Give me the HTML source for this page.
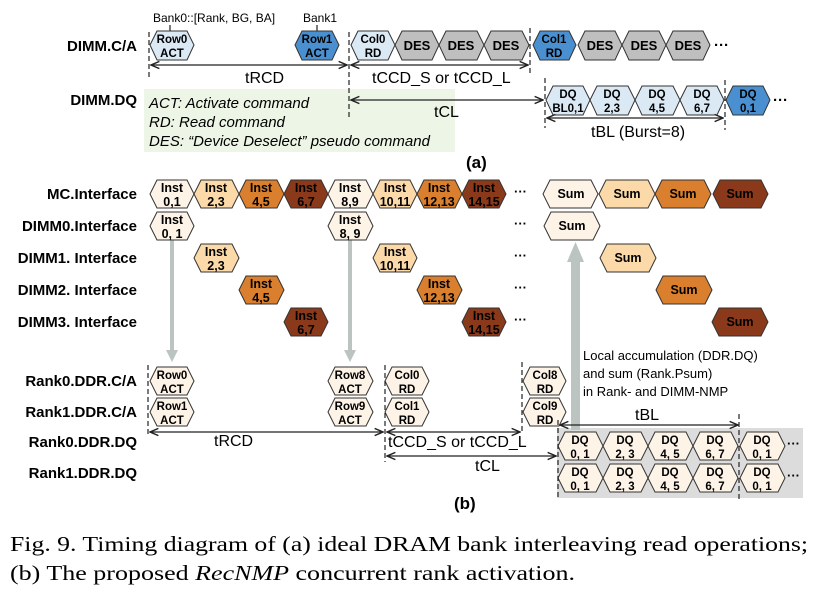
<!DOCTYPE html>
<html><head><meta charset="utf-8"><style>
body{margin:0;background:#fff}
svg{display:block}
.l{font:bold 15px "Liberation Sans",sans-serif;text-anchor:end}
.h{font:bold 11.5px "Liberation Sans",sans-serif;text-anchor:middle}
.t{font:15px "Liberation Sans",sans-serif}
.i{font:italic 15px "Liberation Sans",sans-serif}
.s{stroke:#333;stroke-width:1}
.d{stroke:#222;stroke-width:1.2;stroke-dasharray:5,3}
.a{stroke:#222;stroke-width:1.2;fill:none}
</style></head><body>
<svg width="822" height="596" viewBox="0 0 822 596" xmlns="http://www.w3.org/2000/svg">
<defs>
<marker id="m" markerWidth="8" markerHeight="8" refX="7" refY="4" orient="auto-start-reverse"><path d="M0,1 L7,4 L0,7" fill="none" stroke="#222" stroke-width="1.2"/></marker>
</defs>
<!-- (a) -->
<text class="l" x="137" y="51">DIMM.C/A</text>
<text class="l" x="137" y="105">DIMM.DQ</text>
<text x="153" y="22" style="font:12px 'Liberation Sans',sans-serif">Bank0::[Rank, BG, BA]</text>
<text x="303" y="22" style="font:12px 'Liberation Sans',sans-serif">Bank1</text>
<line x1="170" y1="25" x2="170" y2="31" class="a"/><line x1="317" y1="25" x2="317" y2="31" class="a"/>
<rect x="144" y="89" width="311" height="63" fill="#edf5e6"/>
<text class="i" x="149" y="108">ACT: Activate command</text>
<text class="i" x="149" y="127">RD: Read command</text>
<text class="i" x="149" y="146">DES: “Device Deselect” pseudo command</text>
<g class="s">
<polygon points="150,45 157,31 187,31 194,45 187,60 157,60" fill="#dbe9f5"/>
<polygon points="295,45 302,31 332,31 339,45 332,60 302,60" fill="#4a90d0"/>
<polygon points="351,45 358,31 388,31 395,45 388,60 358,60" fill="#dbe9f5"/>
<polygon points="395,45 402,31 432,31 439,45 432,60 402,60" fill="#bfbfbf"/>
<polygon points="439,45 446,31 477,31 484,45 477,60 446,60" fill="#bfbfbf"/>
<polygon points="484,45 491,31 522,31 529,45 522,60 491,60" fill="#bfbfbf"/>
<polygon points="533,45 540,31 569,31 576,45 569,60 540,60" fill="#4a90d0"/>
<polygon points="578,45 585,31 615,31 622,45 615,60 585,60" fill="#bfbfbf"/>
<polygon points="622,45 629,31 659,31 666,45 659,60 629,60" fill="#bfbfbf"/>
<polygon points="666,45 673,31 703,31 710,45 703,60 673,60" fill="#bfbfbf"/>
<polygon points="546,100 553,86 583,86 590,100 583,115 553,115" fill="#dbe9f5"/>
<polygon points="590,100 597,86 628,86 635,100 628,115 597,115" fill="#dbe9f5"/>
<polygon points="635,100 642,86 673,86 680,100 673,115 642,115" fill="#dbe9f5"/>
<polygon points="680,100 687,86 717,86 724,100 717,115 687,115" fill="#dbe9f5"/>
<polygon points="726,100 733,86 763,86 770,100 763,115 733,115" fill="#4a90d0"/>
</g>
<g class="h">
<text x="172" y="43">Row0</text><text x="172" y="57">ACT</text>
<text x="317" y="43">Row1</text><text x="317" y="57">ACT</text>
<text x="373" y="43">Col0</text><text x="373" y="57">RD</text>
<text x="417" y="50" style="font-size:13px">DES</text><text x="461" y="50" style="font-size:13px">DES</text><text x="506" y="50" style="font-size:13px">DES</text>
<text x="554" y="43">Col1</text><text x="554" y="57">RD</text>
<text x="600" y="50" style="font-size:13px">DES</text><text x="644" y="50" style="font-size:13px">DES</text><text x="688" y="50" style="font-size:13px">DES</text>
<text x="568" y="98">DQ</text><text x="568" y="112">BL0,1</text>
<text x="612" y="98">DQ</text><text x="612" y="112">2,3</text>
<text x="657" y="98">DQ</text><text x="657" y="112">4,5</text>
<text x="702" y="98">DQ</text><text x="702" y="112">6,7</text>
<text x="748" y="98">DQ</text><text x="748" y="112">0,1</text>
</g>
<text x="714" y="50" class="t" style="font-weight:bold">···</text>
<text x="773" y="105" class="t" style="font-weight:bold">···</text>
<line x1="149" y1="32" x2="149" y2="80" class="d"/>
<line x1="349" y1="32" x2="349" y2="118" class="d"/>
<line x1="530" y1="28" x2="530" y2="75" class="d"/>
<line x1="545" y1="78" x2="545" y2="128" class="d"/>
<line x1="725" y1="80" x2="725" y2="130" class="d"/>
<line x1="151" y1="65" x2="347" y2="65" class="a" marker-start="url(#m)" marker-end="url(#m)"/>
<line x1="351" y1="65" x2="528" y2="65" class="a" marker-start="url(#m)" marker-end="url(#m)"/>
<line x1="351" y1="100" x2="543" y2="100" class="a" marker-start="url(#m)" marker-end="url(#m)"/>
<line x1="547" y1="118" x2="723" y2="118" class="a" marker-start="url(#m)" marker-end="url(#m)"/>
<text class="t" x="245" y="83" style="font-size:16px">tRCD</text>
<text class="t" x="372" y="83" style="font-size:16px">tCCD_S or tCCD_L</text>
<text class="t" x="434" y="117" style="font-size:16px">tCL</text>
<text class="t" x="591" y="137" style="font-size:16px">tBL (Burst=8)</text>
<text x="466" y="168" style="font:bold 17px 'Liberation Sans',sans-serif">(a)</text>
<!-- (b) -->
<text class="l" x="137" y="199">MC.Interface</text>
<text class="l" x="137" y="231">DIMM0.Interface</text>
<text class="l" x="137" y="263">DIMM1. Interface</text>
<text class="l" x="137" y="295">DIMM2. Interface</text>
<text class="l" x="137" y="327">DIMM3. Interface</text>
<text class="l" x="137" y="386">Rank0.DDR.C/A</text>
<text class="l" x="137" y="417">Rank1.DDR.C/A</text>
<text class="l" x="137" y="447">Rank0.DDR.DQ</text>
<text class="l" x="137" y="478">Rank1.DDR.DQ</text>
<rect x="557" y="428" width="246" height="70" fill="#dcdcdc"/>
<rect x="170" y="240" width="4" height="112" fill="#bcc4c2"/><polygon points="166,350 178,350 172,362" fill="#bcc4c2"/>
<rect x="348" y="240" width="4" height="112" fill="#bcc4c2"/><polygon points="344,350 356,350 350,362" fill="#bcc4c2"/>
<rect x="571" y="258" width="9" height="172" fill="#bcc4c2"/><polygon points="567,262 584,262 575.5,242" fill="#bcc4c2"/>
<g class="s">
<polygon points="150,194 157,180 187,180 194,194 187,208 157,208" fill="#fdf3e7"/>
<polygon points="194,194 201,180 232,180 239,194 232,208 201,208" fill="#fbd9a8"/>
<polygon points="239,194 246,180 277,180 284,194 277,208 246,208" fill="#d97f2e"/>
<polygon points="284,194 291,180 321,180 328,194 321,208 291,208" fill="#8a3a1a"/>
<polygon points="328,194 335,180 366,180 373,194 366,208 335,208" fill="#fdf3e7"/>
<polygon points="373,194 380,180 410,180 417,194 410,208 380,208" fill="#fbd9a8"/>
<polygon points="417,194 424,180 455,180 462,194 455,208 424,208" fill="#d97f2e"/>
<polygon points="462,194 469,180 499,180 506,194 499,208 469,208" fill="#8a3a1a"/>
<polygon points="150,226 157,212 187,212 194,226 187,240 157,240" fill="#fdf3e7"/>
<polygon points="328,226 335,212 366,212 373,226 366,240 335,240" fill="#fdf3e7"/>
<polygon points="194,258 201,244 232,244 239,258 232,272 201,272" fill="#fbd9a8"/>
<polygon points="373,258 380,244 410,244 417,258 410,272 380,272" fill="#fbd9a8"/>
<polygon points="239,290 246,276 277,276 284,290 277,304 246,304" fill="#d97f2e"/>
<polygon points="417,290 424,276 455,276 462,290 455,304 424,304" fill="#d97f2e"/>
<polygon points="284,322 291,308 321,308 328,322 321,336 291,336" fill="#8a3a1a"/>
<polygon points="462,322 469,308 499,308 506,322 499,336 469,336" fill="#8a3a1a"/>
<polygon points="543,194 550,180 591,180 598,194 591,208 550,208" fill="#fdf3e7"/>
<polygon points="599,194 606,180 648,180 655,194 648,208 606,208" fill="#fbd9a8"/>
<polygon points="655,194 662,180 704,180 711,194 704,208 662,208" fill="#d97f2e"/>
<polygon points="713,194 720,180 761,180 768,194 761,208 720,208" fill="#8a3a1a"/>
<polygon points="544,226 551,212 593,212 600,226 593,240 551,240" fill="#fdf3e7"/>
<polygon points="600,258 607,244 649,244 656,258 649,272 607,272" fill="#fbd9a8"/>
<polygon points="656,290 663,276 705,276 712,290 705,304 663,304" fill="#d97f2e"/>
<polygon points="712,322 719,308 761,308 768,322 761,336 719,336" fill="#8a3a1a"/>
<polygon points="150,381 157,367 187,367 194,381 187,395 157,395" fill="#fdf3e7"/>
<polygon points="150,412 157,398 187,398 194,412 187,426 157,426" fill="#fdf3e7"/>
<polygon points="328,381 335,367 366,367 373,381 366,395 335,395" fill="#fdf3e7"/>
<polygon points="328,412 335,398 366,398 373,412 366,426 335,426" fill="#fdf3e7"/>
<polygon points="385,381 392,367 422,367 429,381 422,395 392,395" fill="#fdf3e7"/>
<polygon points="385,412 392,398 422,398 429,412 422,426 392,426" fill="#fdf3e7"/>
<polygon points="523,381 530,367 559,367 566,381 559,395 530,395" fill="#fdf3e7"/>
<polygon points="523,412 530,398 559,398 566,412 559,426 530,426" fill="#fdf3e7"/>
<polygon points="558,446 565,432 596,432 603,446 596,460 565,460" fill="#fdf3e7"/>
<polygon points="603,446 610,432 641,432 648,446 641,460 610,460" fill="#fdf3e7"/>
<polygon points="648,446 655,432 686,432 693,446 686,460 655,460" fill="#fdf3e7"/>
<polygon points="693,446 700,432 731,432 738,446 731,460 700,460" fill="#fdf3e7"/>
<polygon points="740,446 747,432 778,432 785,446 778,460 747,460" fill="#fdf3e7"/>
<polygon points="558,478 565,464 596,464 603,478 596,492 565,492" fill="#fdf3e7"/>
<polygon points="603,478 610,464 641,464 648,478 641,492 610,492" fill="#fdf3e7"/>
<polygon points="648,478 655,464 686,464 693,478 686,492 655,492" fill="#fdf3e7"/>
<polygon points="693,478 700,464 731,464 738,478 731,492 700,492" fill="#fdf3e7"/>
<polygon points="740,478 747,464 778,464 785,478 778,492 747,492" fill="#fdf3e7"/>
</g>
<g class="h" style="font-size:12.5px">
<text x="172" y="192">Inst</text><text x="172" y="206">0,1</text>
<text x="216" y="192">Inst</text><text x="216" y="206">2,3</text>
<text x="261" y="192">Inst</text><text x="261" y="206">4,5</text>
<text x="306" y="192">Inst</text><text x="306" y="206">6,7</text>
<text x="350" y="192">Inst</text><text x="350" y="206">8,9</text>
<text x="395" y="192">Inst</text><text x="395" y="206">10,11</text>
<text x="439" y="192">Inst</text><text x="439" y="206">12,13</text>
<text x="484" y="192">Inst</text><text x="484" y="206">14,15</text>
<text x="172" y="224">Inst</text><text x="172" y="238">0, 1</text>
<text x="350" y="224">Inst</text><text x="350" y="238">8, 9</text>
<text x="216" y="256">Inst</text><text x="216" y="270">2,3</text>
<text x="395" y="256">Inst</text><text x="395" y="270">10,11</text>
<text x="261" y="288">Inst</text><text x="261" y="302">4,5</text>
<text x="439" y="288">Inst</text><text x="439" y="302">12,13</text>
<text x="306" y="320">Inst</text><text x="306" y="334">6,7</text>
<text x="484" y="320">Inst</text><text x="484" y="334">14,15</text>
<text x="571" y="198">Sum</text><text x="627" y="198">Sum</text><text x="683" y="198">Sum</text><text x="740" y="198">Sum</text>
<text x="572" y="230">Sum</text><text x="628" y="262">Sum</text><text x="684" y="294">Sum</text><text x="740" y="326">Sum</text>
</g>
<g class="h">
<text x="172" y="379">Row0</text><text x="172" y="393">ACT</text>
<text x="172" y="410">Row1</text><text x="172" y="424">ACT</text>
<text x="350" y="379">Row8</text><text x="350" y="393">ACT</text>
<text x="350" y="410">Row9</text><text x="350" y="424">ACT</text>
<text x="407" y="379">Col0</text><text x="407" y="393">RD</text>
<text x="407" y="410">Col1</text><text x="407" y="424">RD</text>
<text x="545" y="379">Col8</text><text x="545" y="393">RD</text>
<text x="545" y="410">Col9</text><text x="545" y="424">RD</text>
<text x="580" y="444">DQ</text><text x="580" y="458">0, 1</text>
<text x="625" y="444">DQ</text><text x="625" y="458">2, 3</text>
<text x="670" y="444">DQ</text><text x="670" y="458">4, 5</text>
<text x="715" y="444">DQ</text><text x="715" y="458">6, 7</text>
<text x="762" y="444">DQ</text><text x="762" y="458">0, 1</text>
<text x="580" y="476">DQ</text><text x="580" y="490">0, 1</text>
<text x="625" y="476">DQ</text><text x="625" y="490">2, 3</text>
<text x="670" y="476">DQ</text><text x="670" y="490">4, 5</text>
<text x="715" y="476">DQ</text><text x="715" y="490">6, 7</text>
<text x="762" y="476">DQ</text><text x="762" y="490">0, 1</text>
</g>
<g class="t" style="font-weight:bold;font-size:13px">
<text x="514" y="196">···</text><text x="514" y="228">···</text><text x="514" y="260">···</text><text x="514" y="292">···</text><text x="514" y="324">···</text>
<text x="787" y="448">···</text><text x="787" y="480">···</text>
</g>
<line x1="148" y1="365" x2="148" y2="437" class="d"/>
<line x1="385" y1="365" x2="385" y2="462" class="d"/>
<line x1="522" y1="362" x2="522" y2="432" class="d"/>
<line x1="558" y1="420" x2="558" y2="500" class="d"/>
<line x1="739" y1="414" x2="739" y2="500" class="d"/>
<line x1="150" y1="432" x2="383" y2="432" class="a" marker-start="url(#m)" marker-end="url(#m)"/>
<line x1="387" y1="432" x2="520" y2="432" class="a" marker-start="url(#m)" marker-end="url(#m)"/>
<line x1="387" y1="456" x2="556" y2="456" class="a" marker-start="url(#m)" marker-end="url(#m)"/>
<line x1="560" y1="425" x2="738" y2="425" class="a" marker-start="url(#m)" marker-end="url(#m)"/>
<text class="t" x="214" y="446" style="font-size:16px">tRCD</text>
<text class="t" x="388" y="447" style="font-size:16px">tCCD_S or tCCD_L</text>
<text class="t" x="475" y="471" style="font-size:16px">tCL</text>
<text class="t" x="635" y="420" style="font-size:16px">tBL</text>
<text class="t" x="583" y="360" style="font-size:13px">Local accumulation (DDR.DQ)</text>
<text class="t" x="583" y="378" style="font-size:13px">and sum (Rank.Psum)</text>
<text class="t" x="583" y="396" style="font-size:13px">in Rank- and DIMM-NMP</text>
<text x="454" y="509" style="font:bold 17px 'Liberation Sans',sans-serif">(b)</text>
<text x="10" y="551" style="font:21px 'Liberation Serif',serif" textLength="798" lengthAdjust="spacingAndGlyphs">Fig. 9.  Timing diagram of (a) ideal DRAM bank interleaving read operations;</text>
<text x="10" y="580" style="font:21px 'Liberation Serif',serif" textLength="565" lengthAdjust="spacingAndGlyphs">(b) The proposed <tspan font-style="italic">RecNMP</tspan> concurrent rank activation.</text>
</svg>
</body></html>
